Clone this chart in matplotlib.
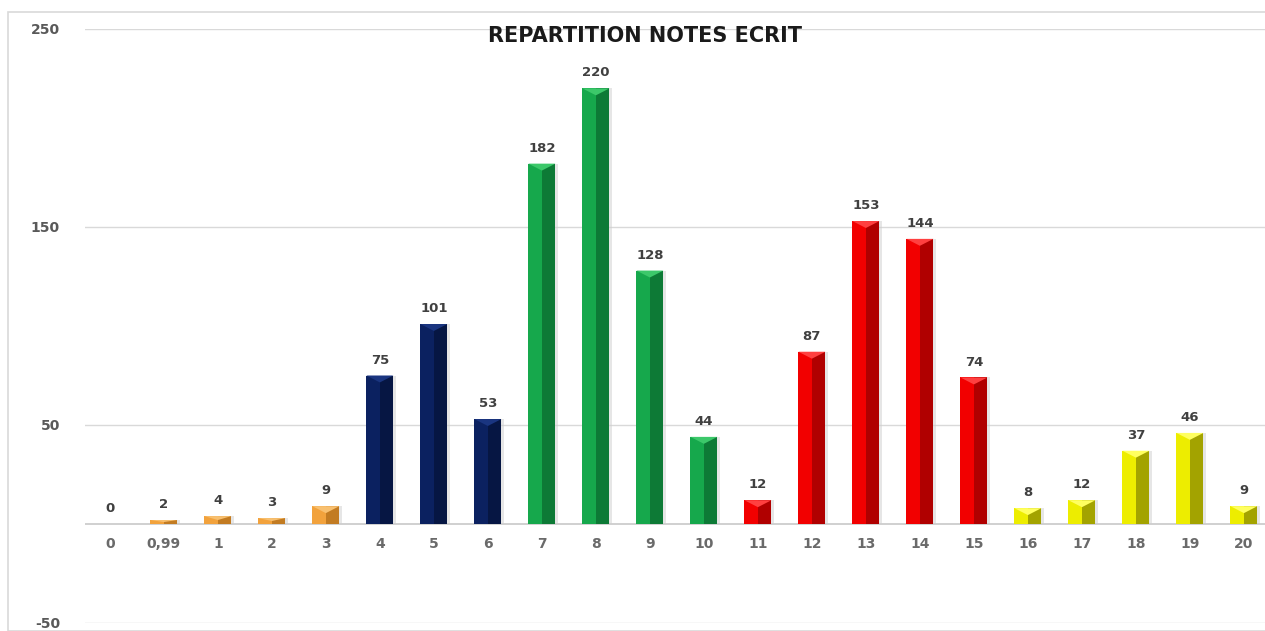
import numpy as np
import matplotlib.pyplot as plt
from matplotlib.patches import Rectangle, Polygon

plt.rcParams['axes.unicode_minus'] = False

categories = ['0', '0,99', '1', '2', '3', '4', '5', '6', '7', '8', '9', '10',
              '11', '12', '13', '14', '15', '16', '17', '18', '19', '20']
counts = [0, 2, 4, 3, 9, 75, 101, 53, 182, 220, 128, 44,
          12, 87, 153, 144, 74, 8, 12, 37, 46, 9]
groups = ['orange'] * 5 + ['navy'] * 3 + ['green'] * 4 + ['red'] * 5 + ['yellow'] * 5

light = {'orange': '#F2A23C', 'navy': '#0B2160', 'green': '#16A84C',
         'red': '#F20000', 'yellow': '#EDED00'}
dark = {'orange': '#C27B22', 'navy': '#061643', 'green': '#0D7A36',
        'red': '#B00000', 'yellow': '#A3A300'}
top = {'orange': '#F8C070', 'navy': '#1A3580', 'green': '#3CC86A',
       'red': '#FF4040', 'yellow': '#FFFF60'}

fig = plt.figure(figsize=(12.65, 6.31), dpi=100)
fig.patches.append(Rectangle((8 / 1265, 0), 1.2, (631 - 12) / 631, transform=fig.transFigure,
                             fill=False, edgecolor='#d9d9d9', lw=1.2))
ax = fig.add_axes([85 / 1265, 8 / 631, 1 - 85 / 1265, 594 / 631])

x = np.arange(len(categories))
w = 0.5
cl = [light[g] for g in groups]
cd = [dark[g] for g in groups]

ax.set_ylim(-50, 250)
ax.set_xlim(-0.46, 21.39)
ax.set_yticks([-50, 50, 150, 250])
ax.grid(axis='y', color='#d9d9d9', lw=1)
ax.set_axisbelow(True)
ax.axhline(0, color='#c8c8c8', lw=1.2, zorder=1)

# soft shadow, main face, darker right face
ax.bar(x + 0.05, counts, width=w, color='#cfcfcf', alpha=0.5, zorder=2)
ax.bar(x, counts, width=w, color=cl, zorder=3)
ax.bar(x + w / 4, counts, width=w / 2, color=cd, zorder=4)

# bevelled top
for xi, v, g in zip(x, counts, groups):
    if v <= 0:
        continue
    h = min(3.5, v * 0.5)
    ax.add_patch(Polygon([(xi - w / 2, v), (xi + w / 2, v), (xi, v - h)],
                         closed=True, color=top[g], zorder=5, lw=0))

for xi, v in zip(x, counts):
    ax.text(xi, v + 4.5, str(v), ha='center', va='bottom', fontsize=9.5,
            fontweight='bold', color='#404040', family='DejaVu Sans')

# category labels just under the zero line
ax.set_xticks(x)
ax.set_xticklabels([])
ax.tick_params(axis='x', length=0)
for xi, c in zip(x, categories):
    ax.annotate(c, (xi, 0), xytext=(0, -14.4), textcoords='offset points',
                ha='center', va='center', fontsize=10, fontweight='bold',
                color='#6a6a6a', family='DejaVu Sans')

ax.tick_params(axis='y', length=0, pad=18, labelsize=10, labelcolor='#595959')
for lab in ax.get_yticklabels():
    lab.set_fontweight('bold')
    lab.set_family('DejaVu Sans')

for s in ax.spines.values():
    s.set_visible(False)

fig.text(645 / 1265, 1 - 36 / 631, 'REPARTITION NOTES ECRIT', ha='center', va='center',
         fontsize=15, fontweight='bold', color='#1a1a1a', family='DejaVu Sans')

fig.savefig('out.png', dpi=100)
